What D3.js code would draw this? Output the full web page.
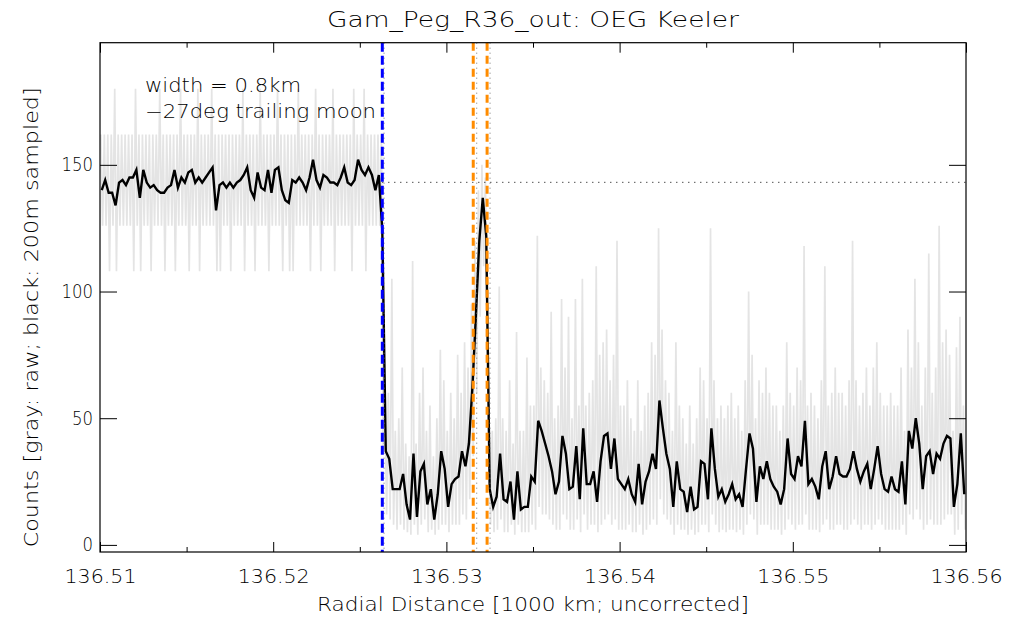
<!DOCTYPE html>
<html><head><meta charset="utf-8">
<script src="https://cdn.jsdelivr.net/npm/d3@7"></script>
<style>body{margin:0;background:#fff} svg text{font-family:"DejaVu Sans",sans-serif;font-weight:200;fill:#000}</style>
</head><body><svg id="c" width="1020" height="620"></svg>
<script>
const title = "Gam_Peg_R36_out: OEG Keeler";
const xLabel = "Radial Distance [1000 km; uncorrected]";
const yLabel = "Counts [gray: raw; black: 200m sampled]";
const notes = ["width = 0.8km", "\u221227deg trailing moon"];
const xMajorTicks = [136.51, 136.52, 136.53, 136.54, 136.55, 136.56];
const xMinorTicks = [136.515, 136.525, 136.535, 136.545, 136.555];
const yTicks = [0, 50, 100, 150];
const xStart = 136.5101, xStep = 0.0002;
const sampled = [
140,144,139,139,134,143,144,142,145,145,
148,137,148,143,141,142,140,139,139,141,
142,148,141,145,143,147,148,143,145,143,
145,147,149,132,142,143,141,143,141,143,
144,146,149,140,137,147,141,140,148,139,
148,149,140,136,135,144,143,145,143,140,
145,152,144,141,146,145,143,143,142,145,
149,143,142,144,152,148,146,149,146,140,
146,124,37,34,22,22,22,28,16,10,
36,11,29,32,16,22,10,20,37,30,
15,24,26,27,37,31,40,62,90,120,
137,122,22,15,19,36,18,17,25,10,
29,14,15,15,27,25,49,45,40,35,
29,20,25,43,36,22,23,39,18,46,
24,24,29,17,33,43,44,30,42,26,
24,22,26,20,17,32,16,25,29,36,
30,57,46,36,30,15,33,22,21,13,
23,14,15,33,32,18,46,30,19,22,
17,20,24,18,20,15,30,44,38,17,
31,26,33,26,23,21,16,22,42,28,
26,35,31,49,24,26,23,18,31,37,
22,27,35,28,27,27,30,37,30,25,
29,32,22,30,39,28,22,21,27,22,
21,33,16,45,38,50,40,22,35,37,
28,36,34,40,43,42,15,24,44,20];
const rawHigh = [
162,162,162,162,180,162,162,162,162,162,
180,162,162,162,162,162,162,180,162,162,
162,162,162,180,162,162,162,162,180,162,
162,162,180,162,162,162,162,162,162,162,
162,180,162,162,162,162,180,162,162,162,
162,180,162,162,162,162,162,180,162,162,
162,162,180,162,162,162,162,180,162,162,
162,162,162,180,162,162,180,162,162,162,
162,162,55,60,105,45,50,70,40,35,
112,40,60,70,45,55,35,50,77,65,
45,60,50,75,60,80,70,95,120,140,
150,145,55,45,50,102,50,45,65,40,
84,45,45,74,55,55,122,70,65,60,
92,50,55,97,70,90,50,97,55,105,
55,60,65,110,75,80,85,65,75,120,
55,55,65,50,45,65,45,55,60,80,
75,125,85,65,60,45,80,55,50,40,
55,40,50,70,65,50,125,65,50,55,
50,55,60,50,55,45,65,100,75,50,
65,60,70,60,55,55,45,55,80,60,
55,70,65,118,55,60,55,50,65,110,
55,60,70,60,60,55,65,120,65,55,
60,70,55,70,80,60,55,55,60,55,
55,70,45,85,70,105,80,55,70,115,
60,70,126,80,85,75,45,78,90,55];
const rawLow = [
126,126,108,126,108,126,126,126,126,108,
126,108,126,126,108,126,126,126,108,126,
126,108,126,126,126,108,126,126,108,126,
126,126,126,108,108,126,126,108,126,126,
126,108,126,126,108,126,126,126,108,126,
126,126,108,126,108,108,126,126,126,126,
108,126,126,108,126,126,126,108,126,126,
126,126,108,126,126,126,108,126,126,126,
126,36,12,10,8,6,8,6,5,4,
8,4,8,10,5,6,4,6,8,8,
5,8,8,8,12,10,18,35,60,90,
110,80,8,5,6,10,5,5,8,4,
8,5,5,5,8,6,15,12,12,10,
8,6,6,12,10,6,6,10,5,12,
6,8,8,5,8,10,12,8,10,6,
6,6,8,5,5,8,4,6,8,10,
8,18,12,10,8,4,8,6,6,4,
6,4,5,8,8,5,12,8,5,6,
5,6,6,5,6,4,8,12,10,4,
8,8,8,6,6,6,4,6,10,8,
6,8,8,12,6,6,6,5,8,10,
6,6,8,8,6,6,8,10,8,6,
8,8,6,8,10,8,6,6,6,6,
6,8,4,12,10,14,10,6,8,10,
8,8,8,10,12,12,4,6,12,6];
const edgeEvent = [136.52630];
const ringEdges = [136.53155, 136.53235];
const correctedEdges = [136.52640, 136.53175, 136.53252];
const baselineLevel = 143.1;

const L = 100, R = 966, T = 42.7, B = 552;
const svg = d3.select("#c");
const x = d3.scaleLinear().domain([136.51, 136.56]).range([L, R]);
const y = d3.scaleLinear().domain([-2.8, 198.2]).range([B, T]);

svg.append("defs").append("clipPath").attr("id","clip")
  .append("rect").attr("x",L).attr("y",T).attr("width",R-L).attr("height",B-T);
const plot = svg.append("g").attr("clip-path","url(#clip)");

// raw (gray) zigzag
const rawPts = [];
rawHigh.forEach((h,i)=>{
  const xc = xStart + i*xStep;
  rawPts.push([xc - xStep*0.25, h]);
  rawPts.push([xc + xStep*0.25, rawLow[i]]);
});
const line = d3.line().x(d=>x(d[0])).y(d=>y(d[1]));
plot.append("path").datum(rawPts).attr("d", line)
  .attr("fill","none").attr("stroke","#e4e4e4").attr("stroke-width",1.7);

// sampled (black)
const sPts = sampled.map((v,i)=>[xStart + i*xStep, v]);
plot.append("path").datum(sPts).attr("d", line)
  .attr("fill","none").attr("stroke","#000").attr("stroke-width",2.4).attr("stroke-linejoin","miter");

// horizontal dotted baseline
plot.append("line").attr("x1", x(edgeEvent[0])).attr("x2", R)
  .attr("y1", y(baselineLevel)).attr("y2", y(baselineLevel))
  .attr("stroke","#000").attr("stroke-width",1).attr("stroke-dasharray","1,5");

// corrected edges dotted
plot.selectAll(".ce").data(correctedEdges).enter().append("line")
  .attr("x1", d=>x(d)).attr("x2", d=>x(d)).attr("y1", T).attr("y2", B)
  .attr("stroke","#777").attr("stroke-width",1).attr("stroke-dasharray","1,4");

// dashed lines
plot.selectAll(".ev").data(edgeEvent).enter().append("line")
  .attr("x1", d=>x(d)).attr("x2", d=>x(d)).attr("y1", T).attr("y2", B)
  .attr("stroke","#0000ff").attr("stroke-width",3).attr("stroke-dasharray","9,4");
plot.selectAll(".re").data(ringEdges).enter().append("line")
  .attr("x1", d=>x(d)).attr("x2", d=>x(d)).attr("y1", T).attr("y2", B)
  .attr("stroke","#ff8c00").attr("stroke-width",3).attr("stroke-dasharray","8,5");

// axes
const fmt = d3.format(".2f");
svg.append("g").attr("class","xb").attr("transform",`translate(0,${B})`)
  .call(d3.axisBottom(x).tickValues(xMajorTicks).tickSizeInner(-10).tickSizeOuter(0).tickPadding(18).tickFormat(fmt));
svg.append("g").attr("transform",`translate(0,${B})`)
  .call(d3.axisBottom(x).tickValues(xMinorTicks).tickSizeInner(-5).tickSizeOuter(0).tickFormat(""));
svg.append("g").attr("transform",`translate(0,${T})`)
  .call(d3.axisTop(x).tickValues(xMajorTicks).tickSizeInner(-10).tickSizeOuter(0).tickFormat(""));
svg.append("g").attr("transform",`translate(0,${T})`)
  .call(d3.axisTop(x).tickValues(xMinorTicks).tickSizeInner(-5).tickSizeOuter(0).tickFormat(""));
svg.append("g").attr("class","yl").attr("transform",`translate(${L},0)`)
  .call(d3.axisLeft(y).tickValues(yTicks).tickSizeInner(-17).tickSizeOuter(0).tickPadding(7).tickFormat(d3.format("d")));
svg.append("g").attr("transform",`translate(${R},0)`)
  .call(d3.axisRight(y).tickValues(yTicks).tickSizeInner(-17).tickSizeOuter(0).tickFormat(""));
svg.selectAll(".domain").remove();
svg.selectAll(".tick line").attr("stroke","#000").attr("stroke-width",1);
svg.selectAll(".tick text").attr("font-size",19).attr("font-family","DejaVu Sans, sans-serif")
  .attr("font-weight",200).attr("fill","#000");
svg.selectAll(".xb .tick text").attr("textLength",72).attr("lengthAdjust","spacingAndGlyphs");
svg.selectAll(".yl .tick text").attr("textLength",d=>String(d).length*10.5).attr("lengthAdjust","spacingAndGlyphs");

svg.append("rect").attr("x",L).attr("y",T).attr("width",R-L).attr("height",B-T)
  .attr("fill","none").attr("stroke","#000").attr("stroke-width",1.2);

// texts
svg.append("text").attr("x",(L+R)/2).attr("y",27).attr("text-anchor","middle")
  .attr("font-size",21).attr("textLength",412).attr("lengthAdjust","spacingAndGlyphs").text(title);
svg.append("text").attr("x",(L+R)/2).attr("y",611).attr("text-anchor","middle")
  .attr("font-size",20).attr("textLength",432).attr("lengthAdjust","spacingAndGlyphs").text(xLabel);
svg.append("text").attr("transform",`translate(38,${(T+B)/2+20}) rotate(-90)`).attr("text-anchor","middle")
  .attr("font-size",20).attr("textLength",460).attr("lengthAdjust","spacingAndGlyphs").text(yLabel);
svg.append("text").attr("x",145).attr("y",92).attr("font-size",19)
  .attr("textLength",156).attr("lengthAdjust","spacingAndGlyphs").text(notes[0]);
svg.append("text").attr("x",145).attr("y",118).attr("font-size",19)
  .attr("textLength",231).attr("lengthAdjust","spacingAndGlyphs").text(notes[1]);
</script></body></html>
